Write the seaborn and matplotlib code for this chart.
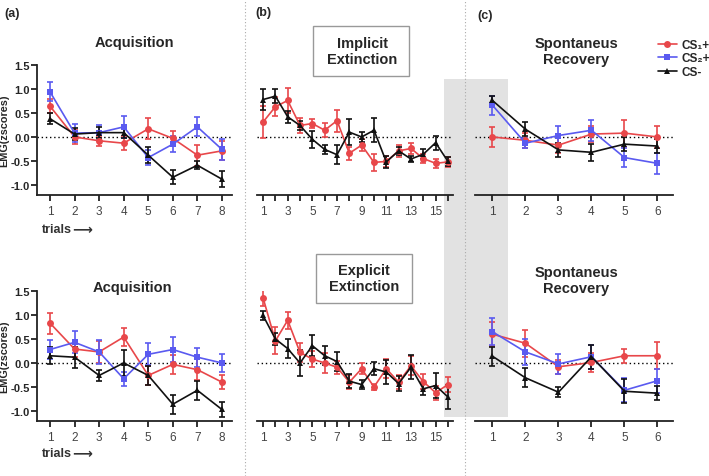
import matplotlib
matplotlib.use('Agg')
import matplotlib.pyplot as plt
from matplotlib.patches import Rectangle
from matplotlib.lines import Line2D
import seaborn as sns
import pandas as pd

# ---- data (mean EMG z-scores and SEM) ----
stims = ['CS1+', 'CS2+', 'CS-']
trials_acq = [1, 2, 3, 4, 5, 6, 7, 8]
trials_ext = list(range(1, 17))
trials_rec = [1, 2, 3, 4, 5, 6]

# implicit group (top row)
acq1_cs1 = [0.64, 0.00, -0.08, -0.13, 0.17, -0.03, -0.38, -0.29]
acq1_cs1_err = [0.15, 0.15, 0.10, 0.15, 0.22, 0.15, 0.22, 0.20]
acq1_cs2 = [0.94, 0.08, 0.09, 0.21, -0.43, -0.15, 0.21, -0.26]
acq1_cs2_err = [0.20, 0.18, 0.15, 0.23, 0.15, 0.17, 0.20, 0.22]
acq1_csm = [0.38, 0.06, 0.09, 0.09, -0.38, -0.84, -0.59, -0.88]
acq1_csm_err = [0.12, 0.12, 0.12, 0.12, 0.17, 0.15, 0.08, 0.17]

ext1_cs1 = [0.31, 0.63, 0.76, 0.24, 0.28, 0.14, 0.34, -0.34, -0.17, -0.53, -0.51, -0.29, -0.24, -0.45, -0.55, -0.52]
ext1_cs1_err = [0.33, 0.20, 0.27, 0.15, 0.10, 0.15, 0.23, 0.13, 0.13, 0.17, 0.12, 0.12, 0.12, 0.10, 0.10, 0.10]
ext1_csm = [0.78, 0.85, 0.42, 0.24, -0.05, -0.26, -0.37, 0.10, 0.00, 0.14, -0.52, -0.29, -0.46, -0.36, -0.12, -0.51]
ext1_csm_err = [0.22, 0.15, 0.13, 0.10, 0.17, 0.10, 0.20, 0.27, 0.10, 0.25, 0.12, 0.08, 0.07, 0.10, 0.15, 0.10]

rec1_cs1 = [0.00, -0.07, -0.17, 0.06, 0.08, 0.00]
rec1_cs1_err = [0.20, 0.15, 0.17, 0.17, 0.28, 0.22]
rec1_cs2 = [0.66, -0.13, 0.03, 0.14, -0.43, -0.55]
rec1_cs2_err = [0.20, 0.10, 0.20, 0.22, 0.20, 0.22]
rec1_csm = [0.76, 0.16, -0.27, -0.32, -0.15, -0.19]
rec1_csm_err = [0.10, 0.15, 0.15, 0.18, 0.15, 0.15]

# explicit group (bottom row)
acq2_cs1 = [0.83, 0.29, 0.23, 0.54, -0.26, -0.03, -0.14, -0.40]
acq2_cs1_err = [0.22, 0.17, 0.23, 0.18, 0.20, 0.20, 0.22, 0.15]
acq2_cs2 = [0.28, 0.43, 0.23, -0.33, 0.18, 0.28, 0.12, 0.00]
acq2_cs2_err = [0.20, 0.23, 0.25, 0.15, 0.23, 0.27, 0.20, 0.18]
acq2_csm = [0.15, 0.12, -0.26, 0.00, -0.26, -0.86, -0.57, -0.97]
acq2_csm_err = [0.18, 0.22, 0.12, 0.28, 0.20, 0.20, 0.20, 0.15]

ext2_cs1 = [1.36, 0.46, 0.89, 0.22, 0.08, 0.00, -0.09, -0.40, -0.12, -0.50, -0.12, -0.40, -0.06, -0.39, -0.62, -0.45]
ext2_cs1_err = [0.17, 0.28, 0.18, 0.20, 0.17, 0.20, 0.13, 0.15, 0.12, 0.07, 0.20, 0.15, 0.20, 0.15, 0.15, 0.15]
ext2_csm = [0.99, 0.50, 0.30, 0.00, 0.36, 0.15, 0.03, -0.38, -0.45, -0.12, -0.19, -0.43, -0.09, -0.54, -0.47, -0.71]
ext2_csm_err = [0.10, 0.12, 0.20, 0.27, 0.22, 0.20, 0.20, 0.15, 0.10, 0.13, 0.25, 0.15, 0.25, 0.13, 0.27, 0.25]

rec2_cs1 = [0.60, 0.41, -0.08, 0.01, 0.15, 0.15]
rec2_cs1_err = [0.25, 0.28, 0.15, 0.20, 0.15, 0.28]
rec2_cs2 = [0.65, 0.23, -0.02, 0.13, -0.57, -0.37]
rec2_cs2_err = [0.28, 0.27, 0.20, 0.25, 0.25, 0.25]
rec2_csm = [0.14, -0.31, -0.61, 0.13, -0.59, -0.63]
rec2_csm_err = [0.20, 0.20, 0.10, 0.25, 0.25, 0.15]

palette = {'CS1+': '#e8474a', 'CS2+': '#5a5af0', 'CS-': '#111111'}
markers = {'CS1+': 'o', 'CS2+': 's', 'CS-': '^'}

sns.set_style('ticks')
plt.rcParams['font.family'] = ['Liberation Sans', 'DejaVu Sans']

W, H = 709, 477
fig = plt.figure(figsize=(W / 100, H / 100), dpi=100)


def fx(px):
    return px / W


def fy(py):
    return 1 - py / H


def make_df(trials, series):
    rows = []
    for stim, (vals, errs) in series.items():
        for t, v, e in zip(trials, vals, errs):
            rows.append({'trial': t, 'emg': v, 'err': e, 'stim': stim})
    return pd.DataFrame(rows)


def panel(rect, trials, series, xlim, ylabel=False, odd_labels=False):
    ax = fig.add_axes(rect)
    ax.set_facecolor('none')
    df = make_df(trials, series)
    ax.axhline(0, color='black', ls=(0, (1, 2)), lw=1.0, zorder=1)
    for stim in series:
        d = df[df['stim'] == stim]
        ax.errorbar(d['trial'], d['emg'], yerr=d['err'], fmt='none', ecolor=palette[stim],
                    elinewidth=1.2, capsize=2.4, capthick=1.2, zorder=2)
    sns.lineplot(data=df, x='trial', y='emg', hue='stim', style='stim',
                 palette=palette, markers=markers, dashes=False, legend=False,
                 markersize=5, markeredgewidth=0, linewidth=1.2, ax=ax, zorder=3)
    ax.set_xlim(*xlim)
    ax.set_ylim(-1.21, 1.5)
    ax.set_xticks(trials)
    if odd_labels:
        ax.set_xticklabels([str(t) if t % 2 == 1 else '' for t in trials])
    ax.tick_params(axis='x', labelsize=8.5, labelcolor='#444444', length=4, width=1.3,
                   color='#222222', pad=3)
    ax.set_xlabel('')
    for s in ['top', 'right']:
        ax.spines[s].set_visible(False)
    ax.spines['bottom'].set_linewidth(1.3)
    ax.spines['bottom'].set_color('#222222')
    if ylabel:
        ax.set_yticks([-1.0, -0.5, 0.0, 0.5, 1.0, 1.5])
        ax.set_yticklabels(['-1.0', '-0.5', '0.0', '0.5', '1.0', '1.5'])
        ax.tick_params(axis='y', labelsize=8, length=4, width=1.3, color='#222222', pad=1)
        for lbl in ax.get_yticklabels():
            lbl.set_fontweight('bold')
        ax.spines['left'].set_linewidth(1.3)
        ax.spines['left'].set_color('#222222')
        ax.set_ylabel('EMG(zscores)', fontsize=7.8, fontweight='bold', labelpad=1)
    else:
        ax.spines['left'].set_visible(False)
        ax.set_yticks([])
        ax.set_ylabel('')
    return ax


rows = [(66, 196, 'top'), (292, 422, 'bottom')]
for y0, y1, which in rows:
    h = (y1 - y0) / H
    b = fy(y1)
    if which == 'top':
        acq = {'CS1+': (acq1_cs1, acq1_cs1_err), 'CS2+': (acq1_cs2, acq1_cs2_err), 'CS-': (acq1_csm, acq1_csm_err)}
        ext = {'CS1+': (ext1_cs1, ext1_cs1_err), 'CS-': (ext1_csm, ext1_csm_err)}
        rec = {'CS1+': (rec1_cs1, rec1_cs1_err), 'CS2+': (rec1_cs2, rec1_cs2_err), 'CS-': (rec1_csm, rec1_csm_err)}
    else:
        acq = {'CS1+': (acq2_cs1, acq2_cs1_err), 'CS2+': (acq2_cs2, acq2_cs2_err), 'CS-': (acq2_csm, acq2_csm_err)}
        ext = {'CS1+': (ext2_cs1, ext2_cs1_err), 'CS-': (ext2_csm, ext2_csm_err)}
        rec = {'CS1+': (rec2_cs1, rec2_cs1_err), 'CS2+': (rec2_cs2, rec2_cs2_err), 'CS-': (rec2_csm, rec2_csm_err)}
    panel([fx(37), b, fx(232 - 37), h], trials_acq, acq, (0.47, 8.41), ylabel=True)
    panel([fx(257), b, fx(453 - 257), h], trials_ext, ext, (0.51, 16.41), odd_labels=True)
    panel([fx(475), b, fx(673 - 475), h], trials_rec, rec, (0.47, 6.47))

# grey band spanning end of extinction / start of recovery
fig.add_artist(Rectangle((fx(444), fy(418)), fx(508 - 444), (418 - 80) / H,
                         transform=fig.transFigure, fc='#e2e2e2', ec='none', zorder=-2))
# dotted separators
for xs in [245, 465]:
    fig.add_artist(Line2D([fx(xs), fx(xs)], [0, 1], transform=fig.transFigure,
                          color='#aaaaaa', ls=(0, (1, 2)), lw=0.8, zorder=-1))

# titles
tkw = dict(ha='center', va='center', fontsize=10.5, fontweight='bold', linespacing=1.2)
fig.text(fx(134), fy(43), 'Acquisition', **tkw)
fig.text(fx(132), fy(288), 'Acquisition', **tkw)
fig.text(fx(362), fy(52), 'Implicit\nExtinction', **tkw)
fig.text(fx(364), fy(279), 'Explicit\nExtinction', **tkw)
fig.text(fx(576), fy(52), 'Spontaneus\nRecovery', **tkw)
fig.text(fx(576), fy(281), 'Spontaneus\nRecovery', **tkw)
for x0, y0, x1, y1 in [(313, 27, 409, 77), (316, 255, 412, 304)]:
    fig.add_artist(Rectangle((fx(x0), fy(y1)), fx(x1 - x0), (y1 - y0) / H,
                             transform=fig.transFigure, fill=False, ec='#999999', lw=1.0))

# panel letters
for lx, ly, s in [(4, 14, '(a)'), (255, 13, '(b)'), (477, 16, '(c)')]:
    fig.text(fx(lx), fy(ly), s, ha='left', va='center', fontsize=9, fontweight='bold')

# trials labels
for ty in [230, 454]:
    fig.text(fx(42), fy(ty), 'trials', ha='left', va='center', fontsize=9, fontweight='bold', color='#333333')
    fig.text(fx(72), fy(ty), '\u27f6', ha='left', va='center', fontsize=10, fontweight='bold',
             color='#333333', family=['DejaVu Sans'])

# legend
handles = [Line2D([], [], color=palette[s], marker=markers[s], markersize=5, markeredgewidth=0, lw=1.2)
           for s in stims]
fig.legend(handles, ['CS\u2081+', 'CS\u2082+', 'CS-'], loc='upper left',
           bbox_to_anchor=(fx(658), fy(40)), frameon=False, handlelength=1.6,
           handletextpad=0.35, labelspacing=0.12, borderpad=0, borderaxespad=0,
           prop={'weight': 'bold', 'size': 8.5})

fig.savefig('out.png', dpi=100)
